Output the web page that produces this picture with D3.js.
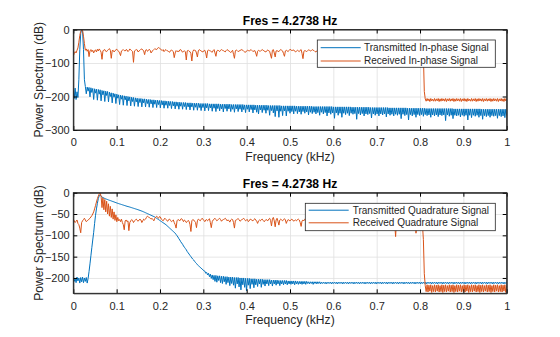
<!DOCTYPE html>
<html><head><meta charset="utf-8">
<script src="https://cdn.jsdelivr.net/npm/d3@7"></script>
<style>
html,body{margin:0;padding:0;background:#fff;}
svg{display:block;font-family:"Liberation Sans",Arial,Helvetica,sans-serif;}
</style></head><body>
<svg id="chart" width="560" height="337"></svg>
<script>
// Frequency grid: sample k sits at k * stepHz (half of the 4.2738 Hz resolution).
const stepHz = 4.2738 / 2;

// Transmitted in-phase spectrum (dB), rows of 10 samples
const txI = [
 -182,-206,-175,-209,-186,-203,-150,-60,-12,-1,
 -4,-60,-150,-170,-192,-172,-184,-173,-201,-174,
 -188,-176,-209,-177,-190,-178,-211,-179,-193,-180,
 -213,-182,-195,-183,-215,-184,-197,-185,-216,-187,
 -200,-189,-219,-190,-202,-192,-221,-193,-205,-195,
 -224,-196,-208,-197,-226,-198,-210,-199,-227,-200,
 -213,-201,-228,-202,-215,-203,-229,-204,-216,-205,
 -230,-206,-218,-206,-231,-207,-219,-207,-231,-208,
 -221,-209,-232,-209,-222,-210,-233,-210,-223,-211,
 -233,-211,-224,-212,-234,-212,-225,-213,-235,-213,
 -226,-214,-235,-214,-227,-215,-236,-215,-228,-216,
 -237,-216,-229,-217,-238,-217,-229,-218,-238,-218,
 -230,-218,-239,-219,-231,-219,-240,-219,-231,-220,
 -241,-220,-232,-220,-241,-220,-233,-221,-242,-221,
 -233,-221,-243,-221,-234,-221,-242,-222,-234,-222,
 -244,-222,-235,-222,-245,-222,-236,-222,-243,-223,
 -237,-223,-246,-223,-236,-223,-244,-223,-237,-223,
 -245,-224,-238,-224,-247,-224,-237,-224,-245,-224,
 -238,-224,-246,-224,-239,-225,-248,-225,-238,-225,
 -246,-225,-239,-225,-249,-225,-240,-226,-247,-226,
 -252,-226,-240,-226,-248,-226,-241,-226,-250,-226,
 -241,-227,-256,-227,-242,-227,-249,-227,-260,-227,
 -243,-227,-262,-227,-244,-228,-257,-228,-243,-228,
 -258,-228,-244,-228,-250,-228,-245,-228,-252,-228,
 -244,-229,-251,-229,-246,-229,-253,-229,-245,-229,
 -250,-229,-246,-229,-255,-229,-247,-229,-251,-230,
 -247,-230,-252,-230,-248,-230,-256,-230,-247,-230,
 -252,-230,-248,-230,-258,-230,-249,-230,-253,-230,
 -249,-231,-265,-231,-249,-231,-256,-231,-250,-231,
 -262,-231,-250,-231,-254,-231,-250,-231,-257,-231,
 -250,-232,-253,-232,-251,-232,-268,-232,-251,-232,
 -255,-232,-251,-232,-258,-232,-252,-232,-254,-232,
 -251,-233,-264,-233,-252,-233,-256,-233,-252,-233,
 -258,-233,-252,-233,-255,-233,-252,-233,-261,-233,
 -252,-234,-256,-234,-253,-234,-258,-234,-253,-234,
 -256,-234,-253,-234,-266,-234,-253,-234,-257,-234,
 -254,-235,-270,-235,-254,-235,-258,-235,-254,-235,
 -262,-235,-254,-235,-257,-235,-254,-235,-259,-235,
 -254,-236,-257,-236,-255,-236,-262,-236,-255,-236,
 -258,-236,-255,-236,-260,-236,-255,-236,-257,-236,
 -255,-236,-272,-236,-255,-236,-259,-236,-256,-236,
 -266,-237,-256,-237,-258,-237,-256,-237,-261,-237,
 -256,-237,-259,-237,-256,-237,-270,-237,-256,-237,
 -263,-237,-256,-237,-259,-237,-256,-237,-262,-237,
 -257,-238,-268,-238,-257,-238,-260,-238,-257,-238,
 -262,-238,-257,-238,-259,-238,-257,-238,-265,-238,
 -257,-238,-260,-238,-258,-238,-263,-238,-257
];

// Received in-phase spectrum (dB)
const rxI = [
 -78,-72,-66,-70,-62,-55,-38,-18,-5,-1,
 -3,-20,-42,-62,-58,-65,-60,-81,-64,-60,
 -66,-62,-70,-63,-61,-67,-59,-64,-58,-62,
 -68,-89,-64,-61,-60,-65,-66,-62,-60,-57,
 -62,-86,-63,-62,-67,-64,-60,-59,-63,-65,
 -70,-78,-64,-62,-60,-63,-64,-60,-61,-66,
 -63,-58,-61,-63,-66,-98,-64,-62,-60,-61,
 -67,-64,-62,-59,-58,-61,-64,-75,-62,-60,
 -65,-63,-59,-62,-70,-65,-63,-60,-57,-59,
 -60,-56,-54,-55,-58,-61,-63,-60,-66,-62,
 -60,-63,-64,-66,-68,-63,-61,-64,-66,-84,
 -70,-63,-66,-64,-66,-61,-60,-64,-68,-65,
 -64,-66,-91,-64,-62,-65,-66,-72,-94,-66,
 -61,-62,-63,-70,-82,-64,-60,-62,-64,-66,
 -67,-63,-62,-70,-85,-64,-61,-63,-64,-66,
 -68,-63,-60,-70,-80,-64,-62,-63,-66,-62,
 -60,-62,-63,-65,-67,-63,-60,-62,-64,-66,
 -69,-65,-62,-74,-86,-64,-61,-63,-66,-64,
 -63,-61,-60,-62,-65,-67,-68,-64,-62,-63,
 -64,-62,-60,-63,-66,-64,-63,-70,-80,-65,
 -62,-64,-65,-62,-60,-62,-64,-66,-67,-63,
 -61,-64,-65,-76,-86,-62,-60,-70,-82,-64,
 -63,-65,-66,-62,-60,-62,-64,-72,-80,-64,
 -62,-64,-66,-62,-59,-61,-63,-62,-61,-65,
 -67,-64,-62,-64,-66,-62,-60,-72,-87,-65,
 -63,-64,-66,-63,-61,-62,-64,-63,-60,-62,
 -63,-66,-67,-64,-61,-63,-65,-62,-62,-66,
 -68,-64,-60,-62,-64,-66,-66,-63,-62,-65,
 -65,-68,-70,-66,-61,-62,-63,-66,-67,-64,
 -60,-62,-64,-68,-72,-65,-62,-64,-66,-63,
 -61,-63,-64,-66,-68,-65,-62,-63,-65,-61,
 -60,-62,-64,-66,-66,-63,-63,-66,-69,-64,
 -61,-63,-64,-62,-62,-65,-67,-63,-60,-62,
 -65,-70,-74,-66,-62,-64,-66,-63,-61,-62,
 -64,-66,-68,-64,-62,-63,-65,-62,-60,-63,
 -66,-64,-63,-65,-70,-66,-61,-63,-64,-66,
 -67,-64,-62,-63,-65,-63,-60,-62,-64,-67,
 -68,-66,-62,-64,-65,-67,-70,-74,-76,-185,
 -207,-214,-206,-213,-207,-215,-206,-213,-208,-214,
 -206,-214,-207,-213,-206,-215,-207,-214,-206,-213,
 -207,-214,-206,-215,-207,-213,-206,-214,-207,-213,
 -206,-215,-207,-214,-206,-213,-207,-214,-206,-215,
 -207,-213,-206,-214,-207,-215,-206,-213,-208,-214,
 -206,-214,-207,-213,-206,-215,-207,-214,-206,-213,
 -207,-214,-206,-215,-207,-213,-206,-214,-207,-213,
 -206,-215,-207,-214,-206,-213,-207,-214,-206,-215,
 -207,-213,-206,-214,-207,-215,-206,-213,-207
];

// Transmitted quadrature spectrum (dB)
const txQ = [
 -199,-208,-201,-211,-198,-207,-200,-212,-199,-209,
 -198,-211,-200,-208,-199,-212,-201,-185,-167,-148,
 -129,-111,-93,-72,-53,-38,-25,-14,-7,-6,
 -8,-10,-11.5,-12.5,-13.5,-14.5,-15.3,-16,-17,-17.8,
 -18.5,-19.3,-20.1,-20.9,-21.7,-22.5,-23.3,-24.1,-24.9,-25.6,
 -26.3,-27,-27.7,-28.4,-29.1,-29.8,-30.5,-31.2,-31.9,-32.5,
 -33,-33.7,-34.4,-35.1,-35.8,-36.5,-37.2,-37.9,-38.6,-39.3,
 -40,-40.8,-41.6,-42.4,-43.2,-44,-45,-46,-47,-48,
 -49,-50,-51,-52,-53,-54,-55,-56,-57,-58.5,
 -60,-61.5,-63,-64.5,-66,-67.5,-69,-70.5,-72,-73.5,
 -75,-77,-79,-81,-83,-85,-87,-89,-91,-93,
 -95,-98,-101,-104,-108,-111,-115,-118,-121,-125,
 -128,-131,-134,-138,-141,-144,-147,-150,-153,-156,
 -158,-161,-164,-166,-169,-171,-173,-175,-177,-179,
 -181,-183,-184,-189,-187,-193,-189,-197,-191,-201,
 -193,-204,-194,-208,-194,-210,-195,-206,-195,-211,
 -196,-213,-196,-209,-197,-215,-197,-211,-198,-218,
 -198,-213,-198,-217,-199,-224,-199,-214,-199,-221,
 -200,-228,-200,-216,-200,-222,-201,-230,-201,-217,
 -201,-225,-202,-215,-202,-223,-202,-216,-203,-220,
 -203,-214,-203,-222,-203,-215,-204,-219,-204,-214,
 -204,-218,-204,-214,-205,-219,-205,-214,-205,-217,
 -205,-214,-206,-218,-206,-214,-206,-216,-206,-214,
 -206,-216,-207,-214,-207,-215,-207,-214,-207,-216,
 -207,-214,-208,-215,-208,-214,-208,-215,-208,-214,
 -208,-215,-208,-213,-209,-214,-209,-213,-209,-215,
 -209,-213,-209,-214,-209,-213,-209,-214,-210,-213,
 -210,-213,-210,-214,-210,-213,-210,-213,-210,-214,
 -210,-213,-210,-213,-210,-214,-210,-213,-210,-213,
 -210,-214,-210,-213,-210,-213,-210,-214,-210,-213,
 -210,-213,-210,-214,-210,-213,-210,-213,-210,-214,
 -210,-213,-210,-213,-210,-214,-210,-213,-210,-213,
 -210,-214,-210,-213,-210,-213,-210,-214,-210,-213,
 -210,-213,-210,-214,-210,-213,-210,-213,-210,-214,
 -210,-213,-210,-213,-210,-214,-210,-213,-210,-213,
 -210,-214,-210,-213,-210,-213,-210,-214,-210,-213,
 -210,-213,-210,-214,-210,-213,-210,-213,-210,-214,
 -210,-213,-210,-213,-210,-214,-210,-213,-210,-213,
 -210,-214,-210,-213,-210,-213,-210,-214,-210,-213,
 -210,-213,-210,-214,-210,-213,-210,-213,-210,-214,
 -210,-213,-210,-213,-210,-214,-210,-213,-210,-213,
 -210,-214,-210,-213,-210,-213,-210,-214,-210,-213,
 -210,-213,-210,-214,-210,-213,-210,-213,-210,-214,
 -210,-213,-210,-213,-210,-214,-210,-213,-210,-213,
 -210,-214,-210,-213,-210,-213,-210,-214,-210,-213,
 -210,-213,-210,-214,-210,-213,-210,-213,-210,-214,
 -210,-213,-210,-213,-210,-214,-210,-213,-210
];

// Received quadrature spectrum (dB)
const rxQ = [
 -62,-66,-70,-67,-64,-72,-75,-83,-94,-70,
 -66,-63,-60,-64,-68,-66,-64,-62,-60,-57,
 -54,-50,-45,-38,-30,-22,-14,-8,-3,-1,
 -8,-35,-12,-40,-16,-45,-20,-50,-26,-55,
 -32,-58,-38,-62,-45,-65,-52,-68,-58,-66,
 -63,-68,-62,-70,-75,-87,-66,-64,-68,-66,
 -89,-70,-66,-63,-65,-70,-66,-64,-62,-65,
 -67,-64,-62,-64,-70,-66,-62,-64,-62,-58,
 -55,-57,-58,-60,-62,-60,-63,-66,-60,-57,
 -55,-58,-60,-56,-57,-62,-64,-66,-62,-60,
 -63,-65,-67,-63,-62,-65,-68,-66,-64,-70,
 -75,-83,-66,-63,-64,-66,-62,-61,-64,-68,
 -64,-66,-70,-68,-65,-67,-75,-91,-66,-63,
 -64,-67,-70,-82,-66,-62,-64,-66,-63,-60,
 -62,-65,-68,-64,-63,-66,-64,-61,-70,-82,
 -68,-64,-62,-60,-63,-66,-64,-62,-60,-63,
 -67,-64,-63,-62,-60,-62,-66,-64,-65,-69,
 -64,-62,-63,-70,-83,-65,-64,-62,-61,-63,
 -67,-65,-63,-62,-60,-63,-66,-64,-63,-68,
 -66,-62,-63,-65,-66,-63,-61,-64,-67,-72,
 -66,-64,-66,-63,-62,-65,-68,-66,-63,-64,
 -66,-62,-60,-65,-78,-62,-58,-66,-80,-64,
 -60,-67,-76,-64,-62,-64,-66,-63,-61,-64,
 -72,-66,-63,-65,-66,-64,-62,-64,-67,-65,
 -64,-66,-63,-62,-64,-70,-79,-66,-64,-66,
 -62,-64,-65,-61,-63,-67,-66,-63,-61,-64,
 -63,-66,-67,-64,-61,-63,-65,-62,-62,-66,
 -68,-64,-60,-62,-64,-66,-66,-63,-62,-65,
 -65,-68,-70,-66,-61,-62,-63,-66,-67,-64,
 -60,-62,-64,-68,-72,-65,-62,-64,-66,-63,
 -61,-63,-64,-66,-68,-65,-62,-63,-65,-61,
 -60,-62,-64,-66,-66,-63,-63,-66,-69,-64,
 -61,-63,-64,-62,-62,-65,-67,-63,-60,-62,
 -65,-70,-74,-66,-62,-64,-66,-63,-61,-62,
 -64,-66,-68,-64,-62,-63,-65,-70,-103,-66,
 -64,-63,-65,-70,-66,-61,-63,-64,-66,-62,
 -67,-64,-62,-63,-65,-63,-60,-62,-64,-67,
 -95,-80,-66,-64,-68,-70,-72,-75,-110,-190,
 -218,-232,-216,-233,-217,-231,-216,-234,-218,-232,
 -216,-233,-217,-231,-216,-233,-218,-232,-216,-234,
 -217,-232,-216,-233,-218,-231,-216,-233,-217,-232,
 -216,-234,-218,-232,-216,-233,-217,-231,-216,-233,
 -218,-232,-216,-233,-217,-231,-216,-234,-218,-232,
 -216,-233,-217,-231,-216,-233,-218,-232,-216,-234,
 -217,-232,-216,-233,-218,-231,-216,-233,-217,-232,
 -216,-234,-218,-232,-216,-233,-217,-231,-216,-233,
 -218,-232,-216,-233,-217,-231,-216,-234,-218
];

const xTickValues = [0, 0.1, 0.2, 0.3, 0.4, 0.5, 0.6, 0.7, 0.8, 0.9, 1];
const xTickLabels = ["0", "0.1", "0.2", "0.3", "0.4", "0.5", "0.6", "0.7", "0.8", "0.9", "1"];
const yTicksTop = [-300, -200, -100, 0];
const yTicksBottom = [-200, -150, -100, -50, 0];
const yDomainTop = [-300, 0];
const yDomainBottom = [-236, 0];
const titleText = "Fres = 4.2738 Hz";
const legendTop = ["Transmitted In-phase Signal", "Received In-phase Signal"];
const legendBottom = ["Transmitted Quadrature Signal", "Received Quadrature Signal"];
const xLabelText = "Frequency (kHz)";
const yLabelText = "Power Spectrum (dB)";

const TX_COLOR = "#0072BD";
const RX_COLOR = "#D95319";
const AXIS_COLOR = "#262626";
const GRID_COLOR = "#dfdfdf";

const svg = d3.select("#chart");

const panels = [
  {
    id: "inphase", left: 73.3, right: 506.7, top: 29.5, bottom: 130,
    yDomain: yDomainTop, yTicks: yTicksTop, series: [txI, rxI], names: legendTop,
    legend: { x: 317.3, y: 40, w: 178, h: 27.3, l0: 320.7, l1: 360.7, tx: 364,
              rows: [47.7, 61], baselines: [50.8, 64.1] },
    titleY: 25.1
  },
  {
    id: "quad", left: 73.3, right: 506.7, top: 192.7, bottom: 293.3,
    yDomain: yDomainBottom, yTicks: yTicksBottom, series: [txQ, rxQ], names: legendBottom,
    legend: { x: 305.3, y: 203.3, w: 190, h: 27.4, l0: 308.7, l1: 348.7, tx: 352.7,
              rows: [210.2, 222.8], baselines: [213.6, 226.2] },
    titleY: 188.4
  }
];

panels.forEach(p => {
  const w = p.right - p.left, h = p.bottom - p.top;
  const x = d3.scaleLinear().domain([0, 1]).range([p.left, p.right]);
  const y = d3.scaleLinear().domain(p.yDomain).range([p.bottom, p.top]);

  // grid
  const grid = svg.append("g");
  grid.append("g").attr("transform", `translate(0,${p.bottom})`)
    .call(d3.axisBottom(x).tickValues(xTickValues).tickSize(-h).tickFormat(""))
    .call(g => { g.select(".domain").remove(); g.selectAll("line").attr("stroke", GRID_COLOR).attr("stroke-width", 0.8); });
  grid.append("g").attr("transform", `translate(${p.left},0)`)
    .call(d3.axisLeft(y).tickValues(p.yTicks).tickSize(-w).tickFormat(""))
    .call(g => { g.select(".domain").remove(); g.selectAll("line").attr("stroke", GRID_COLOR).attr("stroke-width", 0.8); });

  // spectra, frequency in kHz
  const clipId = "clip-" + p.id;
  svg.append("clipPath").attr("id", clipId)
    .append("rect").attr("x", p.left).attr("y", p.top).attr("width", w).attr("height", h);
  const line = d3.line()
    .x((d, i) => x(i * stepHz / 1000))
    .y(d => y(d));
  const plot = svg.append("g").attr("clip-path", `url(#${clipId})`);
  [TX_COLOR, RX_COLOR].forEach((c, k) => {
    plot.append("path").datum(p.series[k])
      .attr("d", line).attr("fill", "none").attr("stroke", c)
      .attr("stroke-width", 1).attr("stroke-linejoin", "round");
  });

  // axes box with inward ticks on all four sides
  const tl = 4;
  const fmt = (d) => xTickLabels[xTickValues.indexOf(d)];
  const xb = svg.append("g").attr("transform", `translate(0,${p.bottom})`)
    .call(d3.axisBottom(x).tickValues(xTickValues).tickSizeInner(-tl).tickSizeOuter(0).tickFormat(fmt));
  xb.selectAll("text").attr("y", 16.3).attr("dy", null);
  svg.append("g").attr("transform", `translate(0,${p.top})`)
    .call(d3.axisTop(x).tickValues(xTickValues).tickSizeInner(-tl).tickSizeOuter(0).tickFormat(""));
  svg.append("g").attr("transform", `translate(${p.left},0)`)
    .call(d3.axisLeft(y).tickValues(p.yTicks).tickSizeInner(-tl).tickSizeOuter(0).tickPadding(3.6));
  svg.append("g").attr("transform", `translate(${p.right},0)`)
    .call(d3.axisRight(y).tickValues(p.yTicks).tickSizeInner(-tl).tickSizeOuter(0).tickFormat(""));
  svg.selectAll("g.tick text").attr("font-size", 11).attr("fill", AXIS_COLOR)
    .attr("font-family", '"Liberation Sans",Arial,sans-serif');
  svg.append("rect").attr("x", p.left).attr("y", p.top).attr("width", w).attr("height", h)
    .attr("fill", "none").attr("stroke", AXIS_COLOR).attr("stroke-width", 0.9);

  // legend
  const L = p.legend;
  const lg = svg.append("g");
  lg.append("rect").attr("x", L.x).attr("y", L.y).attr("width", L.w).attr("height", L.h)
    .attr("fill", "#fff").attr("stroke", AXIS_COLOR).attr("stroke-width", 0.8);
  [TX_COLOR, RX_COLOR].forEach((c, k) => {
    lg.append("line").attr("x1", L.l0).attr("x2", L.l1).attr("y1", L.rows[k]).attr("y2", L.rows[k])
      .attr("stroke", c).attr("stroke-width", 1);
    lg.append("text").attr("x", L.tx).attr("y", L.baselines[k])
      .attr("font-size", 10).attr("fill", AXIS_COLOR).text(p.names[k]);
  });

  // title and axis labels
  svg.append("text").attr("x", (p.left + p.right) / 2).attr("y", p.titleY)
    .attr("text-anchor", "middle").attr("font-size", 12.1).attr("font-weight", "bold")
    .attr("fill", "#000").text(titleText);
  svg.append("text").attr("x", (p.left + p.right) / 2).attr("y", p.bottom + 30.6)
    .attr("text-anchor", "middle").attr("font-size", 12.1).attr("fill", AXIS_COLOR).text(xLabelText);
  svg.append("text").attr("transform", `translate(42.5,${(p.top + p.bottom) / 2}) rotate(-90)`)
    .attr("text-anchor", "middle").attr("font-size", 12.1).attr("fill", AXIS_COLOR).text(yLabelText);
});

svg.selectAll(".domain").attr("stroke", AXIS_COLOR);
</script>
</body></html>
